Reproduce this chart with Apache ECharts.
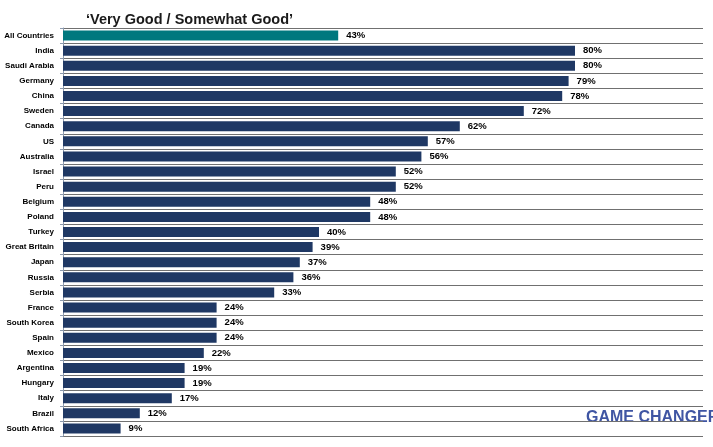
<!DOCTYPE html>
<html>
<head>
<meta charset="utf-8">
<script src="https://cdn.jsdelivr.net/npm/echarts@6/dist/echarts.min.js"></script>
<style>
html,body{margin:0;padding:0;background:#fff;}
#chart{width:713px;height:447px;}
</style>
</head>
<body>
<div id="chart"></div>
<script>
const titleText = "‘Very Good / Somewhat Good’";
const categories = ["All Countries","India","Saudi Arabia","Germany","China","Sweden","Canada","US","Australia","Israel","Peru","Belgium","Poland","Turkey","Great Britain","Japan","Russia","Serbia","France","South Korea","Spain","Mexico","Argentina","Hungary","Italy","Brazil","South Africa"];
const values = [43,80,80,79,78,72,62,57,56,52,52,48,48,40,39,37,36,33,24,24,24,22,19,19,17,12,9];
const logoText = "GAME CHANGERS";

const FONT = '"Liberation Sans", Arial, sans-serif';
const chart = echarts.init(document.getElementById('chart'), null, {renderer:'canvas'});
chart.setOption({
  animation:false,
  title:{
    text:titleText, left:81, top:7,
    textStyle:{fontFamily:FONT, fontSize:14.5, fontWeight:'bold', color:'#1a1a1a'}
  },
  grid:{left:63, right:10, top:28, bottom:11, containLabel:false, outerBoundsMode:'none'},
  xAxis:{type:'value', min:0, max:100, show:false},
  yAxis:{
    type:'category', data:categories, inverse:true,
    axisLine:{show:true, lineStyle:{color:'#8d9bb0', width:1}},
    axisTick:{show:true, length:3, lineStyle:{color:'#8d9bb0'}},
    splitLine:{show:true, lineStyle:{color:'#707070', width:1}},
    axisLabel:{fontFamily:FONT, fontSize:8, fontWeight:'bold', color:'#000', margin:9}
  },
  series:[{
    type:'bar',
    barWidth:10,
    data:values.map((v,i)=>({value:v, itemStyle:{color: i===0 ? '#00787e' : '#1f3864'}})),
    label:{show:true, position:'right', distance:8, formatter:'{c}%',
      fontFamily:FONT, fontSize:9.5, fontWeight:'bold', color:'#000'}
  }],
  graphic:[{
    type:'text', left:586, top:410,
    style:{text:logoText, fontFamily:FONT, fontSize:16, fontWeight:'bold', fill:'#3f55a3'}
  }]
});
</script>
</body>
</html>
